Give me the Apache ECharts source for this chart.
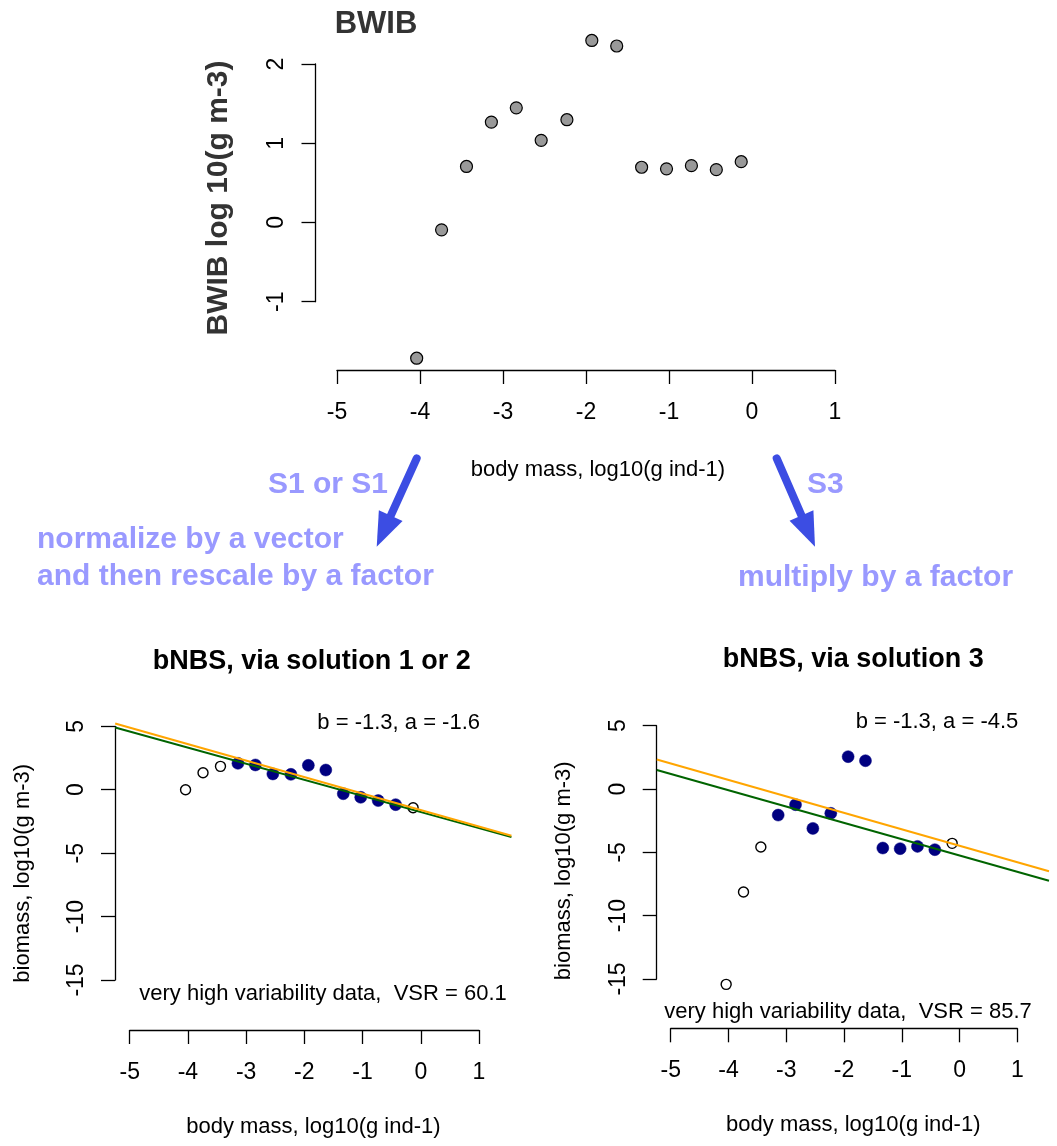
<!DOCTYPE html>
<html>
<head>
<meta charset="utf-8">
<title>BWIB and bNBS</title>
<script src="https://cdn.jsdelivr.net/npm/echarts@6/dist/echarts.min.js"></script>
<style>
  html, body { margin: 0; padding: 0; background: #fff; }
  #chart { width: 1057px; height: 1146px; }
</style>
</head>
<body>
<div id="chart"></div>
<script>
// Body mass bins, log10(g ind-1)
const bodyMass = [-4.04, -3.74, -3.44, -3.14, -2.84, -2.54, -2.23, -1.93, -1.63, -1.33, -1.03, -0.73, -0.43, -0.13];
// Biomass within individual bins, log10(g m-3)
const bwib = [-1.71, -0.09, 0.71, 1.27, 1.45, 1.04, 1.30, 2.30, 2.23, 0.70, 0.68, 0.72, 0.67, 0.77];
// Normalized biomass spectrum, solutions 1/2 and solution 3
const nbsSol12 = [0.00, 1.34, 1.84, 2.08, 1.95, 1.24, 1.21, 1.92, 1.55, -0.32, -0.60, -0.86, -1.18, -1.42];
const nbsSol3 = [-15.44, -8.15, -4.60, -2.08, -1.26, -3.13, -1.94, 2.53, 2.21, -4.68, -4.73, -4.55, -4.81, -4.31];
// 1 = bin used in the regression, 0 = excluded (open circle)
const inFit = [0, 0, 0, 1, 1, 1, 1, 1, 1, 1, 1, 1, 1, 0];
// Fitted lines: intercept a, slope b
const fitSol12 = { a: -1.6, b: -1.3 };
const altSol12 = { a: -1.76, b: -1.27 };
const fitSol3 = { a: -4.5, b: -1.3 };
const altSol3 = { a: -5.27, b: -1.288 };
// Tick values
const massTicks = [-5, -4, -3, -2, -1, 0, 1];
const bwibTicks = [-1, 0, 1, 2];
const nbsTicks = [-15, -10, -5, 0, 5];

const FONT = "'Liberation Sans', Arial, Helvetica, sans-serif";
const AX = '#000';
const ORANGE = '#ffa500';
const GREEN = '#006400';
const NAVY = '#000080';
const ARROW = '#3c4de3';
const NOTE = '#9999ff';

function pts(ys, keep) {
  const out = [];
  bodyMass.forEach((x, i) => { if (keep(i)) out.push([x, ys[i]]); });
  return out;
}
function fitLine(f, x0, x1) {
  return [[x0, f.a + f.b * x0], [x1, f.a + f.b * x1]];
}

// Panel geometry (pixels): data region + separate tick axes
const panels = [
  { // top: BWIB
    data: { left: 316.25, top: 16.7, width: 539.5, height: 364.5, xmin: -5.25, xmax: 1.25, ymin: -2.0, ymax: 2.6 },
    xa: { left: 337, width: 498, line: 370, ticks: massTicks },
    ya: { x: 315.5, top: 64, height: 237.7, ticks: bwibTicks }
  },
  { // bottom left
    data: { left: 115.15, top: 713.6, width: 396.3, height: 285.3, xmin: -5.25, xmax: 1.56, ymin: -16.5, ymax: 6 },
    xa: { left: 129.7, width: 349.3, line: 1030, ticks: massTicks },
    ya: { x: 115, top: 726.3, height: 253.7, ticks: nbsTicks }
  },
  { // bottom right
    data: { left: 656.8, top: 712.7, width: 392.2, height: 285.1, xmin: -5.24, xmax: 1.545, ymin: -16.5, ymax: 6 },
    xa: { left: 670.7, width: 346.6, line: 1028.3, ticks: massTicks },
    ya: { x: 656.7, top: 725.7, height: 253.3, ticks: nbsTicks }
  }
];

const grid = [], xAxis = [], yAxis = [];
const hidden = (min, max, gi) => ({ type: 'value', gridIndex: gi, min, max, show: false });

panels.forEach(p => {
  const d = p.data;
  // data region
  let gi = grid.length;
  grid.push({ left: d.left, top: d.top, width: d.width, height: d.height, containLabel: false });
  xAxis.push(hidden(d.xmin, d.xmax, gi));
  yAxis.push(hidden(d.ymin, d.ymax, gi));
  p.dataIndex = gi;

  // x tick axis
  const xt = p.xa.ticks;
  gi = grid.length;
  grid.push({ left: p.xa.left, top: p.xa.line - 10, width: p.xa.width, height: 10 });
  xAxis.push({
    type: 'value', gridIndex: gi, position: 'bottom',
    min: xt[0], max: xt[xt.length - 1], interval: xt[1] - xt[0],
    axisLine: { show: true, onZero: false, lineStyle: { color: AX, width: 1.3 } },
    axisTick: { show: true, length: 14, lineStyle: { color: AX, width: 1.3 } },
    axisLabel: { show: true, color: '#000', fontSize: 23, fontFamily: FONT, margin: 31, showMinLabel: true, showMaxLabel: true },
    splitLine: { show: false }
  });
  yAxis.push(hidden(0, 1, gi));

  // y tick axis
  const yt = p.ya.ticks;
  gi = grid.length;
  grid.push({ left: p.ya.x, top: p.ya.top, width: 10, height: p.ya.height });
  xAxis.push(hidden(0, 1, gi));
  yAxis.push({
    type: 'value', gridIndex: gi, position: 'left',
    min: yt[0], max: yt[yt.length - 1], interval: yt[1] - yt[0],
    axisLine: { show: true, onZero: false, lineStyle: { color: AX, width: 1.3 } },
    axisTick: { show: true, length: 14, lineStyle: { color: AX, width: 1.3 } },
    axisLabel: { show: true, color: '#000', fontSize: 23, fontFamily: FONT, margin: 27, rotate: 90, showMinLabel: true, showMaxLabel: true },
    splitLine: { show: false }
  });
});

const series = [];
function scatter(gi, data, style, size) {
  series.push({
    type: 'scatter', xAxisIndex: gi, yAxisIndex: gi, data, symbol: 'circle',
    symbolSize: size, itemStyle: Object.assign({ opacity: 1 }, style), silent: true, z: 2
  });
}
function line(gi, data, color) {
  series.push({
    type: 'line', xAxisIndex: gi, yAxisIndex: gi, data, showSymbol: false, symbol: 'none',
    lineStyle: { color, width: 2 }, silent: true, clip: true, z: 3, animation: false
  });
}

// top panel: BWIB
scatter(panels[0].dataIndex, pts(bwib, () => true), { color: '#999999', borderColor: '#000', borderWidth: 1.2 }, 12);

// bottom panels
[[panels[1], nbsSol12, fitSol12, altSol12], [panels[2], nbsSol3, fitSol3, altSol3]].forEach(([p, ys, fit, alt]) => {
  const gi = p.dataIndex;
  scatter(gi, pts(ys, i => !inFit[i]), { color: '#fff', borderColor: '#000', borderWidth: 1.4 }, 10);
  scatter(gi, pts(ys, i => inFit[i]), { color: NAVY, borderColor: NAVY, borderWidth: 0.5 }, 12);
  line(gi, fitLine(alt, p.data.xmin, p.data.xmax), GREEN);
  line(gi, fitLine(fit, p.data.xmin, p.data.xmax), ORANGE);
});

// text helpers
function txt(text, x, y, opts) {
  opts = opts || {};
  return {
    type: 'text', x, y, rotation: opts.rot || 0, z: 10, silent: true,
    style: {
      text, x: 0, y: 0,
      fill: opts.color || '#000',
      font: (opts.weight || 'normal') + ' ' + (opts.size || 22) + 'px ' + FONT,
      textAlign: opts.align || 'center', align: opts.align || 'center',
      textVerticalAlign: 'middle', verticalAlign: 'middle'
    }
  };
}
function arrow(x0, y0, x1, y1) {
  const dx = x1 - x0, dy = y1 - y0, L = Math.hypot(dx, dy);
  const ux = dx / L, uy = dy / L, px = -uy, py = ux;
  const headLen = 34, headHalf = 13;
  const bx = x1 - ux * headLen, by = y1 - uy * headLen;
  return [
    { type: 'line', z: 10, silent: true, shape: { x1: x0, y1: y0, x2: bx + ux * 4, y2: by + uy * 4 },
      style: { stroke: ARROW, lineWidth: 8, lineCap: 'round' } },
    { type: 'polygon', z: 10, silent: true,
      shape: { points: [[x1, y1], [bx + px * headHalf, by + py * headHalf], [bx - px * headHalf, by - py * headHalf]] },
      style: { fill: ARROW } }
  ];
}

const graphic = [
  txt('BWIB', 376, 24, { weight: 'bold', size: 31, color: '#333' }),
  txt('BWIB log 10(g m-3)', 219, 198, { weight: 'bold', size: 30, color: '#333', rot: Math.PI / 2 }),
  txt('body mass, log10(g ind-1)', 598, 470),

  ...arrow(416.7, 458.3, 376.7, 546.7),
  ...arrow(776.7, 458.3, 815, 546.7),
  txt('S1 or S1', 268, 485, { weight: 'bold', size: 30, color: NOTE, align: 'left' }),
  txt('S3', 807, 485, { weight: 'bold', size: 30, color: NOTE, align: 'left' }),
  txt('normalize by a vector', 37, 540, { weight: 'bold', size: 30, color: NOTE, align: 'left' }),
  txt('and then rescale by a factor', 37, 577, { weight: 'bold', size: 30, color: NOTE, align: 'left' }),
  txt('multiply by a factor', 738, 578, { weight: 'bold', size: 30, color: NOTE, align: 'left' }),

  txt('bNBS, via solution 1 or 2', 311.7, 662, { weight: 'bold', size: 27 }),
  txt('b = -1.3, a = -1.6', 480, 723.3, { align: 'right' }),
  txt('very high variability data,  VSR = 60.1', 139.3, 994, { align: 'left' }),
  txt('biomass, log10(g m-3)', 23.3, 873.3, { rot: Math.PI / 2 }),
  txt('body mass, log10(g ind-1)', 313.4, 1126.7),

  txt('bNBS, via solution 3', 853.3, 660, { weight: 'bold', size: 27 }),
  txt('b = -1.3, a = -4.5', 1018.3, 721.7, { align: 'right' }),
  txt('very high variability data,  VSR = 85.7', 664.3, 1012.3, { align: 'left' }),
  txt('biomass, log10(g m-3)', 564.3, 870.8, { rot: Math.PI / 2 }),
  txt('body mass, log10(g ind-1)', 853.3, 1125)
];

const chart = echarts.init(document.getElementById('chart'), null, { renderer: 'canvas' });
chart.setOption({
  animation: false,
  backgroundColor: '#fff',
  textStyle: { fontFamily: FONT },
  grid, xAxis, yAxis, series, graphic
});
</script>
</body>
</html>
